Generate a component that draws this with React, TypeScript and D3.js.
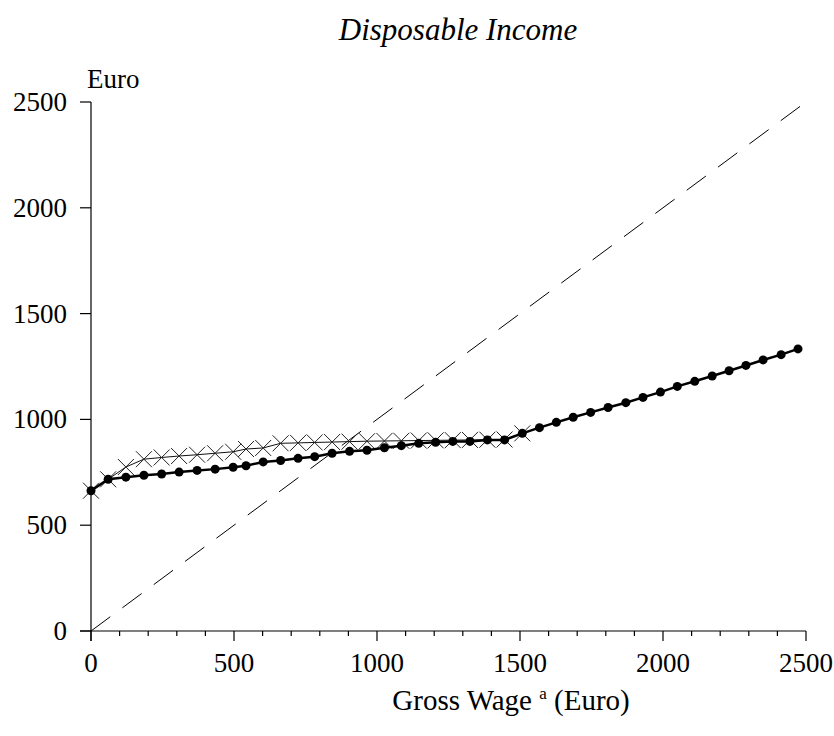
import { useRef, useEffect } from 'react';
import * as d3 from 'd3';

// Gross wage grid (Euro) used by both series
const wages = [0, 60, 122, 185, 247, 308, 371, 434, 497, 542, 602, 663, 724, 782, 843, 904, 965, 1026, 1085, 1146, 1205, 1265, 1325, 1386, 1446, 1508, 1568, 1627, 1686, 1747, 1808, 1870, 1930, 1991, 2050, 2111, 2172, 2231, 2290, 2350, 2413, 2472];

// Disposable income, dots series
const incomeDots = [663, 717, 727, 736, 742, 751, 759, 765, 774, 781, 799, 806, 816, 824, 840, 849, 854, 866, 876, 887, 892, 896, 896, 903, 903, 934, 961, 986, 1010, 1033, 1056, 1079, 1104, 1129, 1156, 1180, 1205, 1230, 1255, 1281, 1306, 1333];

// Disposable income, crosses series (only up to 1500)
const crossWages = [0, 60, 122, 185, 247, 308, 371, 434, 497, 542, 602, 663, 724, 782, 843, 904, 965, 1026, 1085, 1146, 1205, 1265, 1325, 1386, 1446, 1508];
const incomeCrosses = [663, 717, 775, 812, 820, 827, 833, 840, 847, 860, 865, 887, 889, 891, 893, 895, 897, 898, 899, 900, 901, 902, 903, 904, 905, 934];

// 45 degree reference line
const diagonal = [0, 2480];

const xTicks = [0, 500, 1000, 1500, 2000, 2500];
const xMinor = d3.range(0, 2501, 100);
const yTicks = [0, 500, 1000, 1500, 2000, 2500];

function App() {
  const ref = useRef(null);
  const width = 834;
  const height = 736;

  useEffect(() => {
    const svg = d3.select(ref.current);
    svg.selectAll('*').remove();

    const font = '"Liberation Serif", "Times New Roman", serif';
    const x = d3.scaleLinear().domain([0, 2500]).range([91, 806]);
    const y = d3.scaleLinear().domain([0, 2500]).range([631, 102]);

    // Title
    svg.append('text')
      .attr('x', 458).attr('y', 40)
      .attr('text-anchor', 'middle')
      .attr('font-family', font)
      .attr('font-style', 'italic')
      .attr('font-size', 31)
      .text('Disposable Income');

    // Axes lines
    svg.append('line')
      .attr('x1', x(0)).attr('x2', x(0))
      .attr('y1', y(2500)).attr('y2', y(0) + 10)
      .attr('stroke', '#000').attr('stroke-width', 1.2);
    svg.append('line')
      .attr('x1', x(0) - 11).attr('x2', x(2500))
      .attr('y1', y(0)).attr('y2', y(0))
      .attr('stroke', '#000').attr('stroke-width', 1.2);

    // x ticks, major every 500 and minor every 100
    svg.selectAll('line.xminor')
      .data(xMinor)
      .enter().append('line')
        .attr('class', 'xminor')
        .attr('x1', d => x(d)).attr('x2', d => x(d))
        .attr('y1', y(0))
        .attr('y2', d => y(0) + (d % 500 === 0 ? 10 : 5))
        .attr('stroke', '#000').attr('stroke-width', 1.2);

    svg.selectAll('text.xlab')
      .data(xTicks)
      .enter().append('text')
        .attr('class', 'xlab')
        .attr('x', d => x(d)).attr('y', 672)
        .attr('text-anchor', 'middle')
        .attr('font-family', font)
        .attr('font-size', 27)
        .text(d => d);

    // y ticks
    svg.selectAll('line.ytick')
      .data(yTicks)
      .enter().append('line')
        .attr('class', 'ytick')
        .attr('x1', x(0) - 11).attr('x2', x(0))
        .attr('y1', d => y(d)).attr('y2', d => y(d))
        .attr('stroke', '#000').attr('stroke-width', 1.2);

    svg.selectAll('text.ylab')
      .data(yTicks)
      .enter().append('text')
        .attr('class', 'ylab')
        .attr('x', 67).attr('y', d => y(d) + 9)
        .attr('text-anchor', 'end')
        .attr('font-family', font)
        .attr('font-size', 27)
        .text(d => d);

    svg.append('text')
      .attr('x', 87).attr('y', 88)
      .attr('font-family', font)
      .attr('font-size', 27)
      .text('Euro');

    // x axis title
    const xt = svg.append('text')
      .attr('x', 511).attr('y', 710)
      .attr('text-anchor', 'middle')
      .attr('font-family', font)
      .attr('font-size', 29);
    xt.append('tspan').text('Gross Wage ');
    xt.append('tspan').attr('font-size', 17).attr('dy', -11).text('a');
    xt.append('tspan').attr('dy', 11).text(' (Euro)');

    // Dashed 45 degree line
    svg.append('line')
      .attr('x1', x(diagonal[0])).attr('y1', y(diagonal[0]))
      .attr('x2', x(diagonal[1])).attr('y2', y(diagonal[1]))
      .attr('stroke', '#000').attr('stroke-width', 1)
      .attr('stroke-dasharray', '24 15');

    const line = d3.line<[number, number]>()
      .x(d => x(d[0]))
      .y(d => y(d[1]));

    // Crosses series
    const crossPts = crossWages.map((w, i) => [w, incomeCrosses[i]] as [number, number]);
    svg.append('path')
      .attr('d', line(crossPts))
      .attr('fill', 'none')
      .attr('stroke', '#111').attr('stroke-width', 1);
    const cs = 8;
    svg.selectAll('path.cross')
      .data(crossPts)
      .enter().append('path')
        .attr('class', 'cross')
        .attr('d', d => {
          const cx = x(d[0]), cy = y(d[1]);
          return `M${cx - cs},${cy - cs}L${cx + cs},${cy + cs}M${cx - cs},${cy + cs}L${cx + cs},${cy - cs}`;
        })
        .attr('fill', 'none')
        .attr('stroke', '#222').attr('stroke-width', 1);

    // Dots series
    const dotPts = wages.map((w, i) => [w, incomeDots[i]] as [number, number]);
    svg.append('path')
      .attr('d', line(dotPts))
      .attr('fill', 'none')
      .attr('stroke', '#000').attr('stroke-width', 2.5);
    svg.selectAll('circle.dot')
      .data(dotPts)
      .enter().append('circle')
        .attr('class', 'dot')
        .attr('cx', d => x(d[0])).attr('cy', d => y(d[1]))
        .attr('r', 4.5)
        .attr('fill', '#000');
  }, []);

  return (
    <svg
      width={width}
      height={height}
      ref={ref}
      style={{ position: 'absolute', left: 0, top: 0, background: '#fff' }}
    />
  );
}

export default App;
